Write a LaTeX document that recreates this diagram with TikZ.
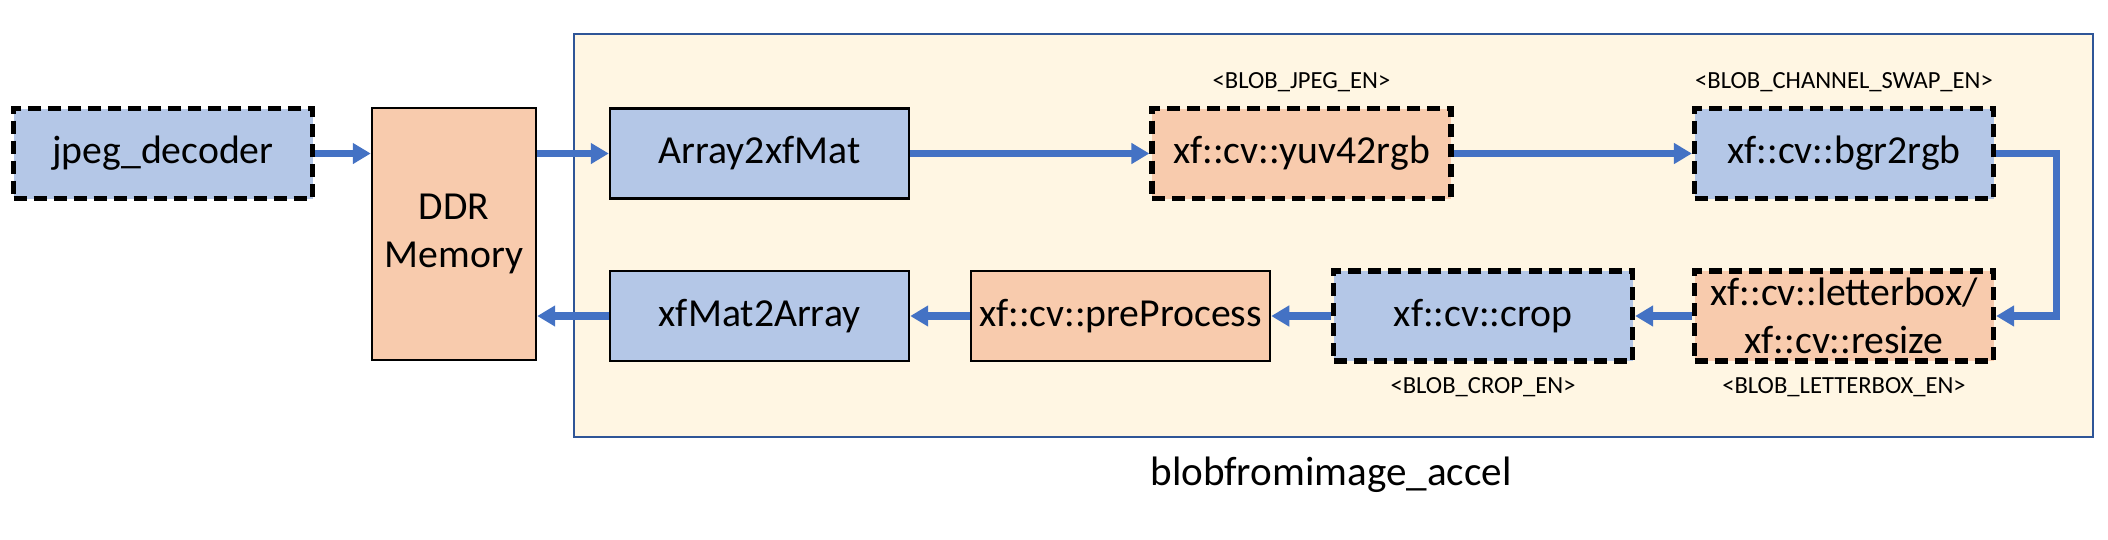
\documentclass[tikz,border=0pt]{standalone}
\usepackage{fontspec}
\setmainfont{Carlito}
\usepackage{xcolor}
\usetikzlibrary{arrows.meta,positioning}
\definecolor{blkblue}{HTML}{B4C7E7}
\definecolor{blkorange}{HTML}{F8CBAD}
\definecolor{accelbg}{HTML}{FFF6E3}
\definecolor{accelline}{HTML}{2F5597}
\definecolor{flowblue}{HTML}{4472C4}

\begin{document}
\begin{tikzpicture}[
      blk/.style={draw=black,line width=0.7pt,minimum width=2.99cm,minimum height=0.9cm,
                  inner sep=1pt,align=center,font=\fontsize{11.3}{13.5}\selectfont},
      opt/.style={line width=1.5pt,dash pattern=on 0.13cm off 0.07cm},
      bluefill/.style={fill=blkblue},
      orangefill/.style={fill=blkorange},
      flow/.style={draw=flowblue,line width=2pt,-{Triangle[length=0.18cm,width=0.2cm]}},
      flag/.style={inner sep=1pt,font=\fontsize{7}{8}\selectfont}]
    \useasboundingbox (0,0) rectangle (21.08,5.39);
    % accelerator frame
    \node[draw=accelline,fill=accelbg,line width=0.8pt,minimum width=15.19cm,
          minimum height=4.03cm,inner sep=0pt] (accel) at (13.335,3.035) {};
    \node[font=\fontsize{11.7}{14}\selectfont] (accelname) at (13.31,0.64) {blobfromimage\_accel};
    % host side
    \node[blk,bluefill,opt] (jpeg) at (1.63,3.855) {jpeg\_decoder};
    \node[blk,orangefill,minimum width=1.64cm,minimum height=2.52cm] (ddr) at (4.54,3.05) {DDR\\Memory};
    % top row
    \node[blk,bluefill] (arr2mat) at (7.595,3.855) {Array2xfMat};
    \node[blk,orangefill,opt] (yuv) at (13.015,3.855) {xf::cv::yuv42rgb};
    \node[blk,bluefill,opt] (bgr) at (18.44,3.855) {xf::cv::bgr2rgb};
    % bottom row
    \node[blk,orangefill,opt] (letterbox) at (18.44,2.23) {xf::cv::letterbox/\\xf::cv::resize};
    \node[blk,bluefill,opt] (crop) at (14.83,2.23) {xf::cv::crop};
    \node[blk,orangefill] (preproc) at (11.205,2.23) {xf::cv::preProcess};
    \node[blk,bluefill] (mat2arr) at (7.595,2.23) {xfMat2Array};
    % enable flags
    \node[flag,above=0.1cm of yuv] (jpegen) {<BLOB\_JPEG\_EN>};
    \node[flag,above=0.1cm of bgr] (swapen) {<BLOB\_CHANNEL\_SWAP\_EN>};
    \node[flag,below=0.1cm of crop] (cropen) {<BLOB\_CROP\_EN>};
    \node[flag,below=0.1cm of letterbox] (lben) {<BLOB\_LETTERBOX\_EN>};
    % data flow
    \draw[flow] (jpeg.east) -- (jpeg.east -| ddr.west);
    \draw[flow] (ddr.east |- arr2mat.west) -- (arr2mat.west);
    \draw[flow] (arr2mat) -- (yuv);
    \draw[flow] (yuv) -- (bgr);
    \draw[flow] (bgr.east) -- ++(0.6,0) |- (letterbox.east);
    \draw[flow] (letterbox) -- (crop);
    \draw[flow] (crop) -- (preproc);
    \draw[flow] (preproc) -- (mat2arr);
    \draw[flow] (mat2arr.west) -- (mat2arr.west -| ddr.east);
\end{tikzpicture}
\end{document}
